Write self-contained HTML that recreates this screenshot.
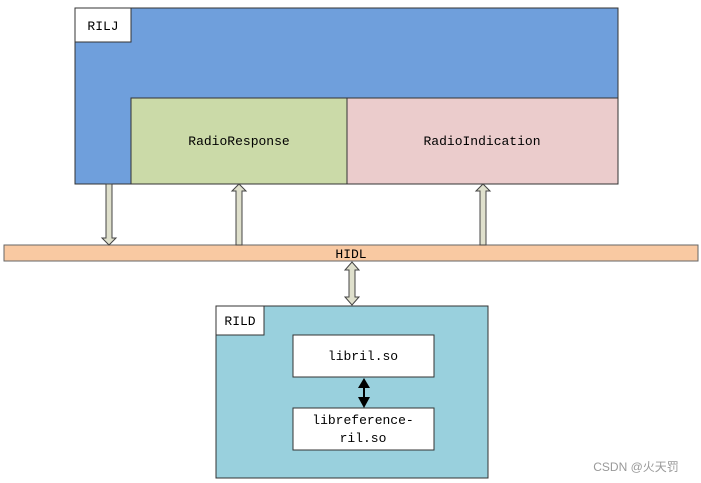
<!DOCTYPE html>
<html><head><meta charset="utf-8"><style>html,body{margin:0;padding:0;background:#fff}svg{display:block}</style></head>
<body>
<svg width="701" height="483" xmlns="http://www.w3.org/2000/svg" font-family="'Liberation Mono', monospace" font-size="13" fill="#000">
<rect x="75" y="8" width="543" height="176" fill="#6f9fdc" stroke="#333" stroke-width="1"/>
<rect x="75" y="8" width="56" height="34" fill="#fff" stroke="#333"/>
<text x="103" y="30" text-anchor="middle">RILJ</text>
<rect x="131" y="98" width="216" height="86" fill="#cbdaa8" stroke="#333"/>
<text x="239" y="145" text-anchor="middle">RadioResponse</text>
<rect x="347" y="98" width="271" height="86" fill="#ebcccc" stroke="#333"/>
<text x="482" y="145" text-anchor="middle">RadioIndication</text>
<rect x="4" y="245" width="694" height="16" fill="#f9c9a2" stroke="#666"/>
<text x="351" y="258" text-anchor="middle">HIDL</text>
<g fill="#dfe0cc" stroke="#444" stroke-width="1">
<polygon points="106,184 112,184 112,238 116,238 109,245 102,238 106,238"/>
<polygon points="236,245 242,245 242,191 246,191 239,184 232,191 236,191"/>
<polygon points="480,245 486,245 486,191 490,191 483,184 476,191 480,191"/>
<polygon points="349,270 345,270 352,262 359,270 355,270 355,297 359,297 352,305 345,297 349,297"/>
</g>
<rect x="216" y="306" width="272" height="172" fill="#99d0dd" stroke="#333"/>
<rect x="216" y="306" width="48" height="29" fill="#fff" stroke="#333"/>
<text x="240" y="325" text-anchor="middle">RILD</text>
<rect x="293" y="335" width="141" height="42" fill="#fff" stroke="#333"/>
<text x="363" y="360" text-anchor="middle">libril.so</text>
<rect x="293" y="408" width="141" height="42" fill="#fff" stroke="#333"/>
<text x="363" y="424" text-anchor="middle">libreference-</text>
<text x="363" y="442" text-anchor="middle">ril.so</text>
<line x1="364" y1="385" x2="364" y2="400" stroke="#000" stroke-width="2"/>
<polygon points="364,378 358,388 370,388" fill="#000"/>
<polygon points="364,408 358,397 370,397" fill="#000"/>
<text x="636" y="471" text-anchor="middle" font-family="'Liberation Sans','Noto Sans CJK SC',sans-serif" font-size="12" fill="#999">CSDN @火天罚</text>
</svg>
</body></html>
